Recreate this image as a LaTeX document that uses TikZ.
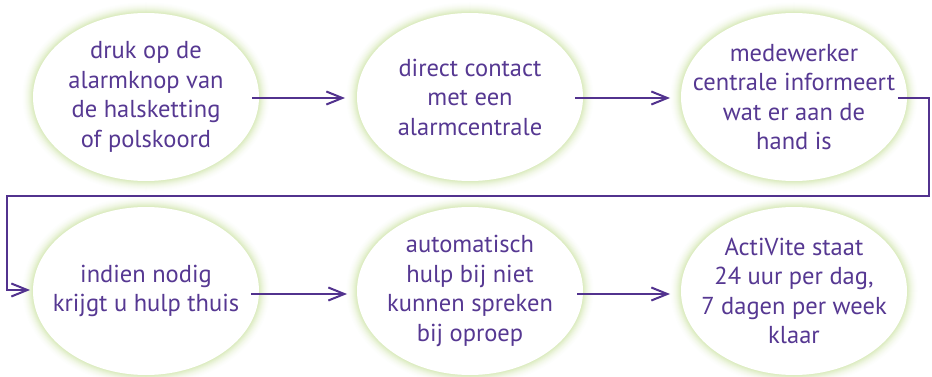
\documentclass[tikz,border=0pt]{standalone}
\usepackage{fontspec}
\setmainfont{PT Sans}
\usetikzlibrary{arrows.meta,shapes.geometric,backgrounds}
\definecolor{glowc}{RGB}{221,236,194}
\definecolor{txtc}{RGB}{86,56,146}
\definecolor{arrc}{RGB}{82,50,142}
\begin{document}
\begin{tikzpicture}[x=1pt,y=-1pt,
  bubble/.style={ellipse, minimum width=226pt, minimum height=168pt, inner sep=0pt,
    align=center, text=txtc, font=\fontsize{24.5}{29.5}\selectfont},
  flow/.style={draw=arrc, line width=2pt, -{Straight Barb[length=16pt,width=13pt]}}]
\useasboundingbox (0,0) rectangle (932,377);
\node[bubble] (e1) at (146,97) {druk op de\\alarmknop van\\de halsketting\\of polskoord};
\node[bubble] (e2) at (470,97) {direct contact\\met een\\alarmcentrale};
\node[bubble] (e3) at (794,97) {medewerker\\centrale informeert\\wat er aan de\\hand is};
\node[bubble] (e4) at (146,291) {indien nodig\\krijgt u hulp thuis};
\node[bubble] (e5) at (470,291) {automatisch\\hulp bij niet\\kunnen spreken\\bij oproep};
\node[bubble] (e6) at (794,291) {ActiVite staat\\24 uur per dag,\\7 dagen per week\\klaar};
\begin{pgfonlayer}{background}
\foreach \n in {e1,e2,e3,e4,e5,e6}{
  \foreach \d in {11,10,...,1}{
    \pgfmathsetmacro\p{100*(1-(\d-1)/11)^1.8}
    \pgfmathsetmacro\rx{113+\d}
    \pgfmathsetmacro\ry{84+\d}
    \fill[glowc!\p!white] (\n.center) ellipse [x radius=\rx pt, y radius=\ry pt];
  }
  \fill[white] (\n.center) ellipse [x radius=113pt, y radius=84pt];
}
\end{pgfonlayer}
\coordinate (r) at (929,196);
\coordinate (l) at (7,196);
\draw[flow] ([xshift=106pt,yshift=-1pt]e1.center) -- ([xshift=-125pt,yshift=-1pt]e2.center);
\draw[flow] ([xshift=105pt,yshift=-1pt]e2.center) -- ([xshift=-124pt,yshift=-1pt]e3.center);
\draw[flow] ([xshift=104pt,yshift=-1pt]e3.center) -| (r) -- (l) |- ([xshift=-116pt,yshift=1pt]e4.center);
\draw[flow] ([xshift=105pt,yshift=-3pt]e4.center) -- ([xshift=-123pt,yshift=-3pt]e5.center);
\draw[flow] ([xshift=107pt,yshift=-3pt]e5.center) -- ([xshift=-124pt,yshift=-3pt]e6.center);
\end{tikzpicture}
\end{document}
